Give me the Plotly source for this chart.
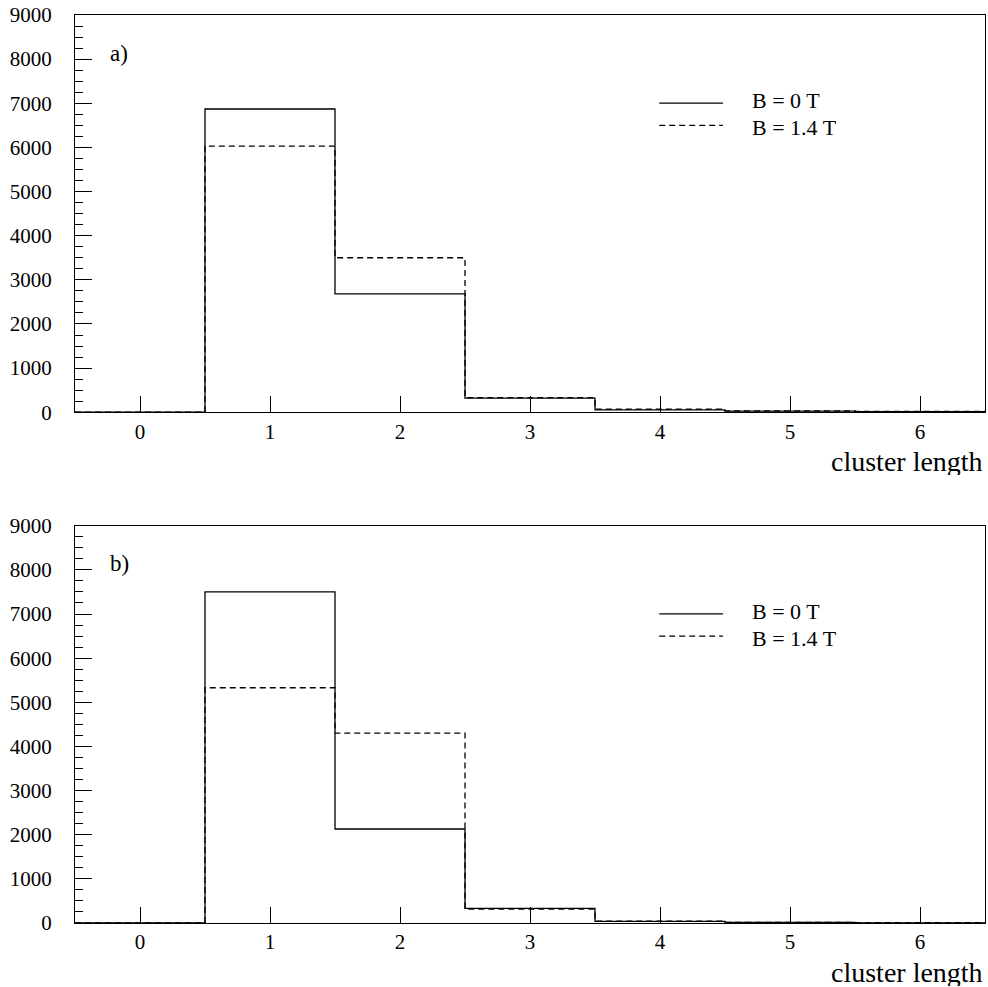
import plotly.graph_objects as go
from plotly.subplots import make_subplots

# Cluster length bins (bin centres)
cluster_length = [0, 1, 2, 3, 4, 5, 6]

# Panel a) counts per bin
a_b0 = [0, 6870, 2680, 320, 55, 25, 15]
a_b14 = [0, 6030, 3500, 330, 70, 30, 20]

# Panel b) counts per bin
b_b0 = [0, 7500, 2130, 330, 35, 12, 5]
b_b14 = [0, 5330, 4300, 315, 40, 15, 8]

y_ticks = [0, 1000, 2000, 3000, 4000, 5000, 6000, 7000, 8000, 9000]
series_names = ["B = 0 T", "B = 1.4 T"]
panel_labels = ["a)", "b)"]

FONT = "Liberation Serif"
DASH = "6px,4px"


def step_xy(centres, counts):
    """Histogram outline: bin edges with counts, for an 'hv' line."""
    edges = [c - 0.5 for c in centres] + [centres[-1] + 0.5]
    ys = list(counts) + [counts[-1]]
    return edges, ys


fig = make_subplots(rows=2, cols=1, vertical_spacing=0.125)

panels = [(a_b0, a_b14), (b_b0, b_b14)]
for row, (solid, dashed) in enumerate(panels, start=1):
    for counts, dash in ((dashed, DASH), (solid, "solid")):
        xs, ys = step_xy(cluster_length, counts)
        fig.add_trace(
            go.Scatter(
                x=xs, y=ys, mode="lines", line_shape="hv",
                line=dict(color="black", width=1.3, dash=dash),
                showlegend=False, hoverinfo="skip",
            ),
            row=row, col=1,
        )

for row in (1, 2):
    fig.update_xaxes(
        range=[-0.5, 6.5], tickvals=cluster_length,
        ticks="inside", ticklen=16, tickwidth=1.3, tickcolor="black",
        showline=True, linecolor="black", linewidth=1.3, mirror=True,
        showgrid=False, zeroline=False,
        tickfont=dict(family=FONT, size=21, color="black"),
        ticklabelstandoff=0,
        row=row, col=1,
    )
    fig.update_yaxes(
        range=[0, 9000], tickvals=y_ticks,
        ticks="inside", ticklen=17, tickwidth=1.3, tickcolor="black",
        minor=dict(dtick=250, ticks="inside", ticklen=8, tickwidth=1.3,
                   tickcolor="black", showgrid=False),
        showline=True, linecolor="black", linewidth=1.3, mirror=True,
        showgrid=False, zeroline=False,
        tickfont=dict(family=FONT, size=21, color="black"),
        ticklabelstandoff=18,
        row=row, col=1,
    )

# Panel labels, axis captions and hand-placed legends
axis_ids = [("x", "y"), ("x2", "y2")]
for (xa, ya), plabel in zip(axis_ids, panel_labels):
    fig.add_annotation(
        text=plabel, xref=f"{xa} domain", yref=f"{ya} domain",
        x=0.036, y=0.904, xanchor="left", yanchor="middle",
        showarrow=False, font=dict(family=FONT, size=23, color="black"),
    )
    fig.add_annotation(
        text="cluster length", xref=f"{xa} domain", yref=f"{ya} domain",
        x=1.0, y=0, xanchor="right", yanchor="middle", yshift=-49,
        height=28, showarrow=False,
        font=dict(family=FONT, size=28, color="black"),
    )
    for name, dash, yline, ytext in zip(series_names, ["solid", DASH],
                                        [0.778, 0.722], [0.784, 0.716]):
        fig.add_shape(
            type="line", xref=f"{xa} domain", yref=f"{ya} domain",
            x0=0.642, x1=0.712, y0=yline, y1=yline,
            line=dict(color="black", width=1.3, dash=dash),
        )
        fig.add_annotation(
            text=name, xref=f"{xa} domain", yref=f"{ya} domain",
            x=0.742, y=ytext, xanchor="left", yanchor="middle",
            height=21, showarrow=False,
            font=dict(family=FONT, size=22, color="black"),
        )

fig.update_layout(
    width=988, height=987,
    margin=dict(l=75, r=3, t=15, b=64),
    plot_bgcolor="white", paper_bgcolor="white",
    showlegend=False,
)

fig.write_html("out.html")
